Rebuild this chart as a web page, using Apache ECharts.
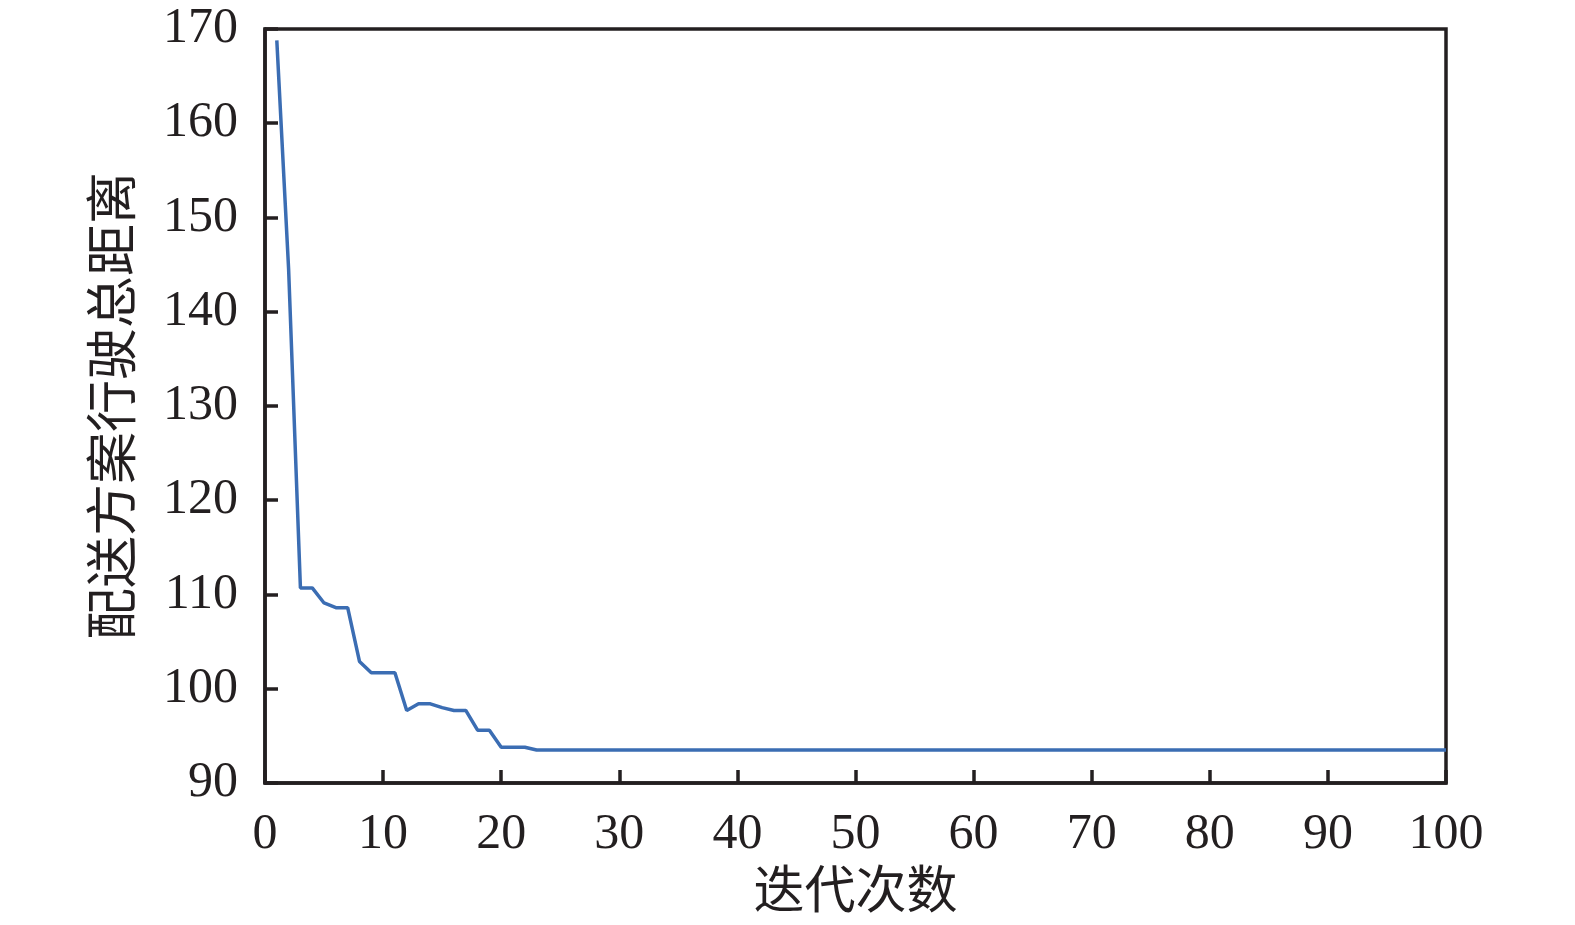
<!DOCTYPE html>
<html>
<head>
<meta charset="utf-8">
<script src="https://cdn.jsdelivr.net/npm/echarts@6/dist/echarts.min.js"></script>
<style>
html, body { margin: 0; padding: 0; background: #fff; }
#main { width: 1575px; height: 925px; }
</style>
</head>
<body>
<div id="main"></div>
<script>
// iteration number and total driving distance
const iterations = [1, 2, 3, 4, 5, 6, 7, 8, 9, 10, 11, 12, 13, 14, 15, 16, 17, 18, 19, 20, 21, 22, 23, 100];
const distances = [168.8, 144.5, 110.7, 110.7, 109.1, 108.6, 108.6, 102.9, 101.7, 101.7, 101.7, 97.7, 98.4, 98.4, 98.0, 97.7, 97.7, 95.6, 95.6, 93.8, 93.8, 93.8, 93.5, 93.5];

const xName = "迭代次数";
const yName = "配送方案行驶总距离";

const ink = "#231f20";
const serif = "'Liberation Serif', 'Noto Sans CJK SC', serif";

const points = [];
for (let i = 0; i < iterations.length; i++) {
	points.push([iterations[i], distances[i]]);
}

var mychart = echarts.init(document.getElementById("main"));

const option = {
	backgroundColor: "#fff",
	animation: false,
	grid: {
		left: 265, right: 129, top: 29, bottom: 140,
		show: true, borderColor: ink, borderWidth: 3.5
	},
	xAxis: {
		type: "value", min: 0, max: 100, interval: 10,
		name: xName, nameLocation: "middle", nameGap: 86,
		nameTextStyle: {fontFamily: serif, fontSize: 51, color: ink},
		axisLine: {show: true, lineStyle: {color: ink, width: 3.5}},
		axisTick: {show: true, inside: true, length: 13, lineStyle: {color: ink, width: 3.5}},
		axisLabel: {fontFamily: serif, fontSize: 50, color: ink, margin: 27},
		splitLine: {show: false}
	},
	yAxis: {
		type: "value", min: 90, max: 170, interval: 10,
		name: yName, nameLocation: "middle", nameGap: 122,
		nameTextStyle: {fontFamily: serif, fontSize: 52, color: ink},
		axisLine: {show: true, lineStyle: {color: ink, width: 3.5}},
		axisTick: {show: true, inside: true, length: 13, lineStyle: {color: ink, width: 3.5}},
		axisLabel: {fontFamily: serif, fontSize: 50, color: ink, margin: 27},
		splitLine: {show: false}
	},
	series: [{
		type: "line", data: points, symbol: "none",
		lineStyle: {color: "#3b6db3", width: 3.5}
	}]
};
mychart.setOption(option);
</script>
</body>
</html>
